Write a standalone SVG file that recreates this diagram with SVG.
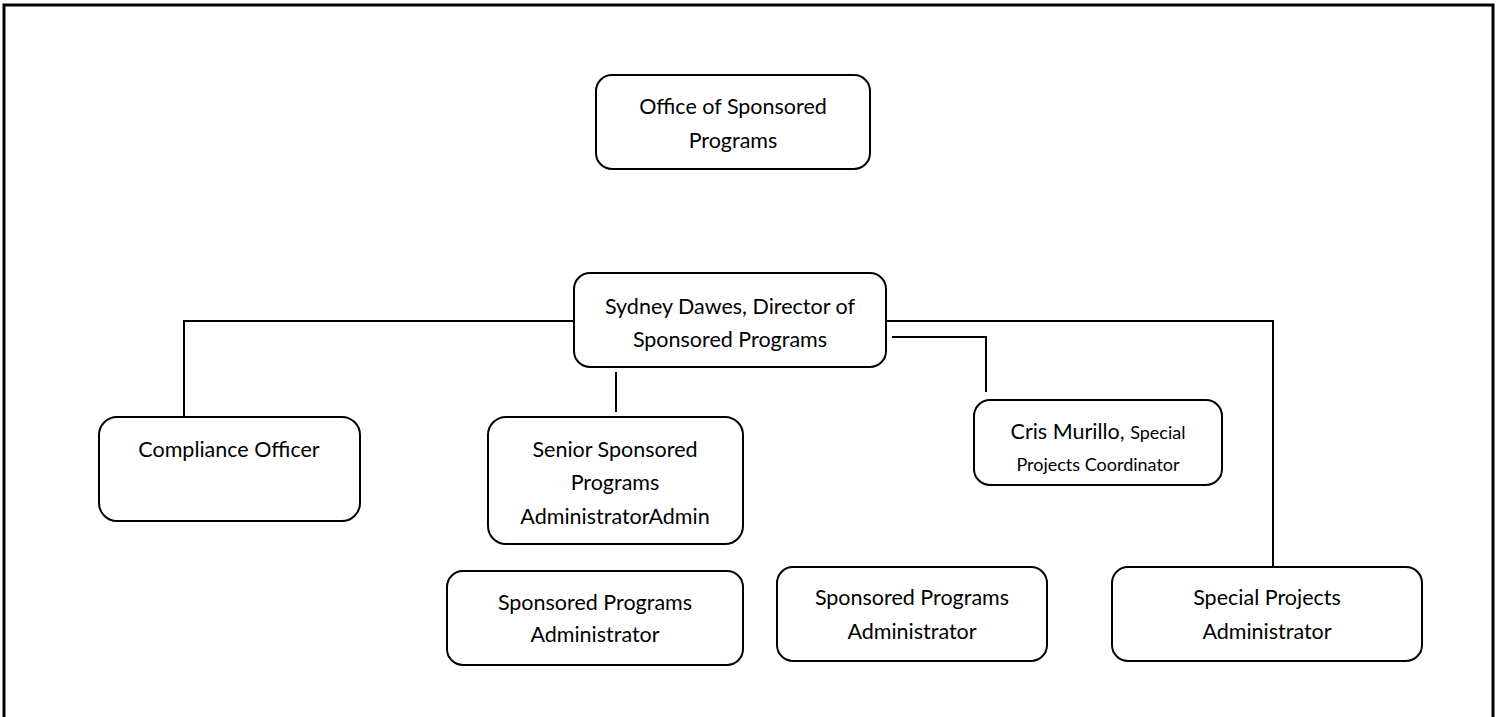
<svg xmlns="http://www.w3.org/2000/svg" width="1499" height="717" viewBox="0 0 1499 717">
<style>
.box{fill:#fff;stroke:#000;stroke-width:2}
.ln{fill:none;stroke:#000;stroke-width:2}
text{font-family:Lato,"Liberation Sans",sans-serif;font-size:21.5px;fill:#000;text-anchor:middle}
.sm{font-size:18px}
</style>
<rect x="0" y="0" width="1499" height="717" fill="#fff"/>
<rect x="4" y="5" width="1489" height="730" fill="none" stroke="#000" stroke-width="3"/>
<g id="connectors">
<path class="ln" d="M574,321 H184 V417"/>
<path class="ln" d="M886,321 H1273 V567"/>
<path class="ln" d="M892,337 H986 V392"/>
<path class="ln" d="M616,372 V412"/>
</g>
<g id="office"><rect class="box" x="596" y="75" width="274" height="94" rx="16"/><text x="733" y="114">Office of Sponsored</text><text x="733" y="148">Programs</text></g>
<g id="director"><rect class="box" x="574" y="273" width="312" height="94" rx="16"/><text x="730" y="314">Sydney Dawes, Director of</text><text x="730" y="347">Sponsored Programs</text></g>
<g id="compliance"><rect class="box" x="99" y="417" width="261" height="104" rx="18"/><text x="229" y="457">Compliance Officer</text></g>
<g id="senior"><rect class="box" x="488" y="417" width="255" height="127" rx="18"/><text x="615" y="457">Senior Sponsored</text><text x="615" y="490">Programs</text><text x="615" y="524">AdministratorAdmin</text></g>
<g id="cris"><rect class="box" x="974" y="400" width="248" height="85" rx="16"/><text x="1098" y="439">Cris Murillo, <tspan class="sm">Special</tspan></text><text x="1098" y="471" class="sm">Projects Coordinator</text></g>
<g id="spa1"><rect class="box" x="447" y="571" width="296" height="94" rx="16"/><text x="595" y="610">Sponsored Programs</text><text x="595" y="642">Administrator</text></g>
<g id="spa2"><rect class="box" x="777" y="567" width="270" height="94" rx="16"/><text x="912" y="605">Sponsored Programs</text><text x="912" y="639">Administrator</text></g>
<g id="special"><rect class="box" x="1112" y="567" width="310" height="94" rx="16"/><text x="1267" y="605">Special Projects</text><text x="1267" y="639">Administrator</text></g>
</svg>
